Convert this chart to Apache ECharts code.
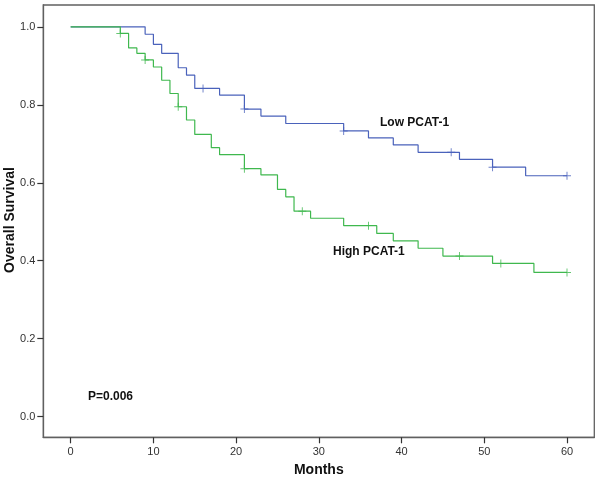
<!DOCTYPE html>
<html>
<head>
<meta charset="utf-8">
<script src="https://cdn.jsdelivr.net/npm/echarts@6/dist/echarts.min.js"></script>
<style>html,body{margin:0;padding:0;background:#fff;}#c{width:600px;height:483px;}</style>
</head>
<body>
<div id="c"></div>
<script>
// Low PCAT-1 group: event times (months) and survival after each step
var lowTimes = [0, 9, 10, 11, 13, 14, 15, 18, 21, 23, 26, 33, 36, 39, 42, 47, 51, 55, 60];
var lowSurv  = [1, 0.981, 0.955, 0.932, 0.895, 0.876, 0.842, 0.825, 0.789, 0.771, 0.752, 0.733, 0.715, 0.697, 0.678, 0.660, 0.640, 0.618, 0.618];
var lowCensorTimes = [16, 21, 33, 46, 51, 60];
var lowCensorSurv  = [0.842, 0.789, 0.733, 0.678, 0.640, 0.618];

// High PCAT-1 group
var highTimes = [0, 6, 7, 8, 9, 10, 11, 12, 13, 14, 15, 17, 18, 21, 23, 25, 26, 27, 29, 33, 37, 39, 42, 45, 51, 56, 60];
var highSurv  = [1, 0.983, 0.946, 0.932, 0.915, 0.897, 0.863, 0.829, 0.795, 0.761, 0.724, 0.690, 0.672, 0.636, 0.620, 0.583, 0.564, 0.527, 0.509, 0.490, 0.470, 0.451, 0.432, 0.412, 0.393, 0.370, 0.370];
var highCensorTimes = [6, 9, 13, 21, 28, 36, 47, 52, 60];
var highCensorSurv  = [0.983, 0.915, 0.795, 0.636, 0.527, 0.490, 0.412, 0.393, 0.370];

var xTicks = [0, 10, 20, 30, 40, 50, 60];
var yTicks = [0, 0.2, 0.4, 0.6, 0.8, 1.0];

var seriesNames = ['Low PCAT-1', 'High PCAT-1'];
var pText = 'P=0.006';
var xTitle = 'Months';
var yTitle = 'Overall Survival';

function zip(a, b) { return a.map(function (v, i) { return [v, b[i]]; }); }

var blue = '#4a62bb';
var green = '#3fb84e';
var plusPath = 'path://M-0.12,-1 L0.12,-1 L0.12,-0.12 L1,-0.12 L1,0.12 L0.12,0.12 L0.12,1 L-0.12,1 L-0.12,0.12 L-1,0.12 L-1,-0.12 L-0.12,-0.12 Z';
var font = '"Liberation Sans", Arial, sans-serif';

var chart = echarts.init(document.getElementById('c'), null, {renderer: 'canvas'});
chart.setOption({
  animation: false,
  backgroundColor: '#fff',
  grid: {left: 43.3, right: 5.7, top: 5, bottom: 45.7, show: true, borderColor: '#606060', borderWidth: 1.3,
    containLabel: false, outerBoundsMode: 'none'},
  xAxis: {
    type: 'value', min: -3.31, max: 63.3,
    name: xTitle, nameLocation: 'middle', nameGap: 26,
    nameTextStyle: {fontFamily: font, fontWeight: 'bold', fontSize: 14, color: '#111'},
    axisLine: {show: true, onZero: false, lineStyle: {color: '#606060', width: 1.3}},
    axisTick: {show: true, length: 6, customValues: xTicks, lineStyle: {color: '#333', width: 1.2}},
    axisLabel: {customValues: xTicks, margin: 9, fontFamily: font, fontSize: 11, color: '#333'},
    splitLine: {show: false}
  },
  yAxis: {
    type: 'value', min: -0.053, max: 1.056,
    axisLine: {show: true, onZero: false, lineStyle: {color: '#606060', width: 1.3}},
    axisTick: {show: true, length: 6, customValues: yTicks, lineStyle: {color: '#333', width: 1.2}},
    axisLabel: {customValues: yTicks, margin: 8, fontFamily: font, fontSize: 11, color: '#333',
      formatter: function (v) { return v.toFixed(1); }},
    splitLine: {show: false}
  },
  series: [
    {name: seriesNames[0], type: 'line', step: 'end', data: zip(lowTimes, lowSurv), showSymbol: false, symbol: 'none',
      lineStyle: {color: blue, width: 1.2}, z: 3},
    {name: seriesNames[1], type: 'line', step: 'end', data: zip(highTimes, highSurv), showSymbol: false, symbol: 'none',
      lineStyle: {color: green, width: 1.2}, z: 3},
    {type: 'scatter', data: zip(lowCensorTimes, lowCensorSurv), symbol: plusPath, symbolSize: 8,
      itemStyle: {color: blue}, z: 4},
    {type: 'scatter', data: zip(highCensorTimes, highCensorSurv), symbol: plusPath, symbolSize: 8,
      itemStyle: {color: green}, z: 4}
  ],
  graphic: [
    {type: 'text', x: 10, y: 220, rotation: Math.PI / 2,
      style: {text: yTitle, font: 'bold 14px ' + font, fill: '#111', align: 'center', verticalAlign: 'middle'}},
    {type: 'text', left: 380, top: 117, style: {text: seriesNames[0], font: 'bold 12px ' + font, fill: '#111'}},
    {type: 'text', left: 333, top: 246, style: {text: seriesNames[1], font: 'bold 12px ' + font, fill: '#111'}},
    {type: 'text', left: 88, top: 391, style: {text: pText, font: 'bold 12px ' + font, fill: '#111'}}
  ]
});
</script>
</body>
</html>
